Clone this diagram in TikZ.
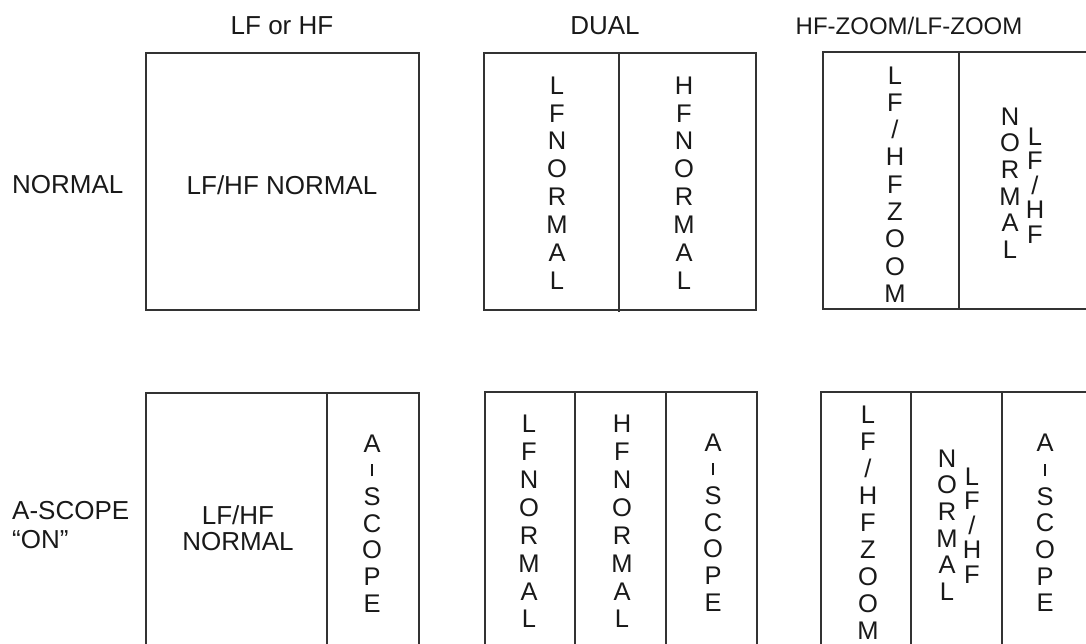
\documentclass[tikz,border=0pt]{standalone}
\usepackage{fontspec}
\setmainfont{Liberation Sans}
\newcommand{\vdashmark}{\raisebox{2.5pt}{\rule{2pt}{12pt}}}
\begin{document}
\begin{tikzpicture}[x=1pt,y=-1pt,
  frame/.style={draw=black!80, line width=1.2pt},
  lbl/.style={inner sep=0pt, text=black!90, font=\fontsize{26}{28}\selectfont},
  vtext/.style={inner sep=0pt, text=black!90, align=center, font=\fontsize{25.5}{#1}\selectfont},
  vtext/.default=27.9]
\useasboundingbox (0,0) rectangle (1086,643);
\clip (0,0) rectangle (1086,643);
% column titles
\node[lbl] (t1) at (282,26) {LF or HF};
\node[lbl] (t2) at (605,26) {DUAL};
\node[lbl, font=\fontsize{24}{28}\selectfont] (t3) at (909,26) {HF-ZOOM/LF-ZOOM};
% row titles
\node[lbl, anchor=west] (r1) at (12,185) {NORMAL};
\node[lbl, anchor=west, align=left, font=\fontsize{26}{29}\selectfont] (r2) at (12,525) {A-SCOPE\\“ON”};
% ---------- top row ----------
\draw[frame] (146,53) rectangle (419,310);
\node[lbl] (a1) at (282,185) {LF/HF NORMAL};
\draw[frame] (484,53) rectangle (756,310);
\draw[frame] (619,53) -- (619,312);
\node[vtext] (a2) at (557,183) {L\\F\\N\\O\\R\\M\\A\\L};
\node[vtext] (a3) at (684,183) {H\\F\\N\\O\\R\\M\\A\\L};
\draw[frame] (1087,52) -- (823,52) -- (823,309) -- (1087,309);
\draw[frame] (959,52) -- (959,309);
\node[vtext=27.3] (a4) at (895,184.5) {L\\F\\/\\H\\F\\Z\\O\\O\\M};
\node[vtext=26.6] (a5) at (1010,183) {N\\O\\R\\M\\A\\L};
\node[vtext=24.5] (a6) at (1035,185.5) {L\\F\\/\\H\\F};
% ---------- bottom row ----------
\draw[frame] (146,644) -- (146,393) -- (419,393) -- (419,644);
\draw[frame] (327,393) -- (327,644);
\node[lbl, align=center, font=\fontsize{26}{25.5}\selectfont] (b1) at (238,528) {LF/HF\\NORMAL};
\node[vtext=26.7] (b2) at (372,523.5) {A\\\vdashmark\\S\\C\\O\\P\\E};
\draw[frame] (485,644) -- (485,392) -- (757,392) -- (757,644);
\draw[frame] (575,392) -- (575,644);
\draw[frame] (666,392) -- (666,644);
\node[vtext] (b3) at (529,521.5) {L\\F\\N\\O\\R\\M\\A\\L};
\node[vtext] (b4) at (622,521.5) {H\\F\\N\\O\\R\\M\\A\\L};
\node[vtext=26.7] (b5) at (713,522.5) {A\\\vdashmark\\S\\C\\O\\P\\E};
\draw[frame] (821,644) -- (821,392) -- (1087,392);
\draw[frame] (911,392) -- (911,644);
\draw[frame] (1002,392) -- (1002,644);
\node[vtext=27.0] (b6) at (868,522.5) {L\\F\\/\\H\\F\\Z\\O\\O\\M};
\node[vtext=26.6] (b7) at (947,525) {N\\O\\R\\M\\A\\L};
\node[vtext=24.5] (b8) at (972,525.5) {L\\F\\/\\H\\F};
\node[vtext=26.7] (b9) at (1045,523) {A\\\vdashmark\\S\\C\\O\\P\\E};
\end{tikzpicture}
\end{document}
